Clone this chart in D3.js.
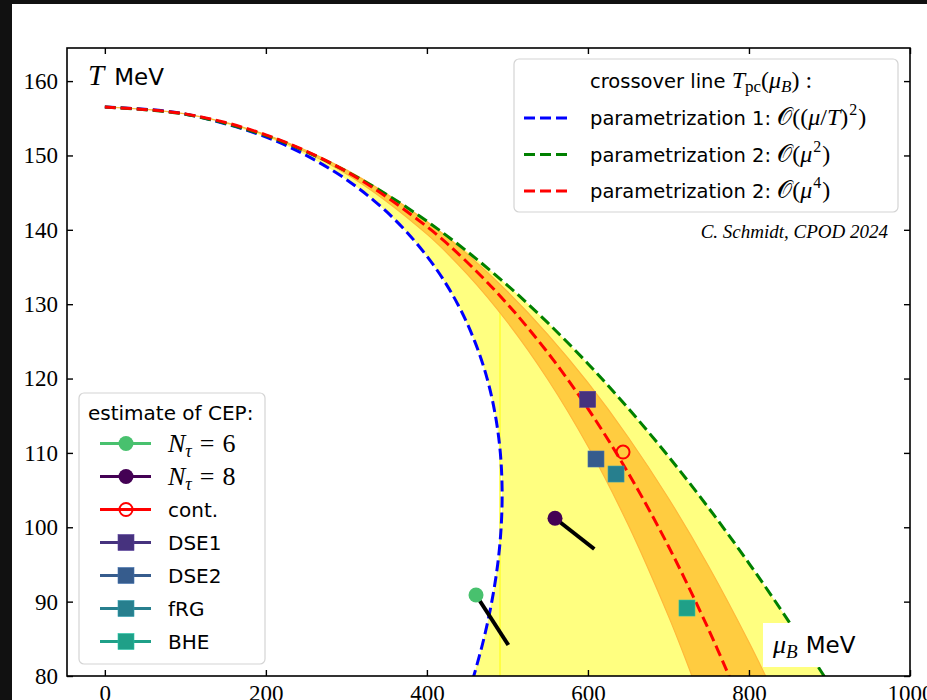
<!DOCTYPE html>
<html>
<head>
<meta charset="utf-8">
<script src="https://cdn.jsdelivr.net/npm/d3@7"></script>
<style>
  body { margin: 0; background: #fff; }
  svg { display: block; }
</style>
</head>
<body>
<div id="wrapper"></div>
<script>
// crossover line, parametrization 1 (T as function of mu, curve bends back)
const blueT  = [156.5, 156, 155, 152, 148, 144, 140, 135, 130, 125, 120, 115, 110, 105, 100, 95, 90, 85, 80, 78];
const blueMu = [0, 72.3, 124.3, 211.2, 282.6, 333.4, 372.4, 409.9, 438.3, 459.4, 474.8, 485.1, 491.2, 493.4, 492.2, 487.9, 480.6, 470.7, 458.2, 452.5];

// parametrization 2, O(mu^2)
const greenMu = [0, 100, 200, 250, 300, 350, 400, 450, 500, 550, 600, 650, 700, 750, 800, 850, 900];
const greenT  = [156.5, 155.54, 152.67, 150.51, 147.87, 144.76, 141.16, 137.09, 132.54, 127.51, 122.0, 116.0, 109.53, 102.58, 95.16, 87.25, 78.86];

// parametrization 2, O(mu^4)
const redMu = [0, 100, 200, 300, 400, 450, 500, 550, 600, 650, 700, 750, 780];
const redT  = [156.5, 155.59, 152.77, 147.84, 140.43, 135.64, 130.02, 123.49, 115.96, 107.31, 97.45, 86.23, 78.8];

// orange band around the O(mu^4) line
const bandLoMu = [0, 100, 200, 300, 400, 450, 500, 550, 600, 650, 700, 720, 740];
const bandLoT  = [156.5, 155.58, 152.71, 147.52, 139.42, 134.03, 127.57, 119.91, 110.89, 100.33, 88.05, 82.61, 76.85];
const bandHiMu = [0, 100, 200, 300, 400, 450, 500, 550, 600, 650, 700, 750, 800, 830];
const bandHiT  = [156.5, 155.59, 152.82, 148.06, 141.11, 136.74, 131.7, 125.95, 119.44, 112.11, 103.9, 94.73, 84.54, 77.9];

// seam in the yellow area
const seamMu = 490.8;
const seamT = [80, 129];

// CEP estimates
const cepNames  = ["Nt6", "Nt8", "cont.", "DSE1", "DSE2", "fRG", "BHE"];
const cepMu     = [461.0, 559.1, 643.6, 599.7, 610.0, 634.9, 723.0];
const cepT      = [90.89, 101.21, 110.12, 117.21, 109.18, 107.16, 89.14];
const cepColors = ["#48c16e", "#440154", "#ff0000", "#46327e", "#365c8d", "#277f8e", "#1fa088"];
const cepShapes = ["circle", "circle", "open", "square", "square", "square", "square"];
// black direction lines for the lattice points
const arrowEndMu = [501.1, 607.9];
const arrowEndT  = [84.17, 97.08];

const xTicks = [0, 200, 400, 600, 800, 1000];
const yTicks = [80, 90, 100, 110, 120, 130, 140, 150, 160];

const crossoverNames = ["parametrization 1: ", "parametrization 2: ", "parametrization 2: "];
const crossoverColors = ["#0000ff", "#008000", "#ff0000"];

const W = 927, H = 700;
const svg = d3.select("#wrapper").append("svg").attr("width", W).attr("height", H);

const x = d3.scaleLinear().domain([-47, 1000]).range([67, 910]);
const y = d3.scaleLinear().domain([80, 164.45]).range([676, 48]);

const serif = "'Liberation Serif', 'DejaVu Serif', serif";
const sans = "'DejaVu Sans', sans-serif";

svg.append("defs").append("clipPath").attr("id", "clip")
  .append("rect").attr("x", 67).attr("y", 48).attr("width", 843).attr("height", 628);

const plot = svg.append("g").attr("clip-path", "url(#clip)");

const line = d3.line().x(d => x(d[0])).y(d => y(d[1])).curve(d3.curveCatmullRom);

const bluePts = blueT.map((t, i) => [blueMu[i], t]);
const greenPts = greenMu.map((m, i) => [m, greenT[i]]);
const redPts = redMu.map((m, i) => [m, redT[i]]);
const loPts = bandLoMu.map((m, i) => [m, bandLoT[i]]);
const hiPts = bandHiMu.map((m, i) => [m, bandHiT[i]]);

// yellow area between blue and green
const blueUp = bluePts.slice().reverse();
plot.append("path")
  .attr("d", line(greenPts) + "L" + line(blueUp).slice(1) + "Z")
  .attr("fill", "#ffff80").attr("stroke", "none");

plot.append("line")
  .attr("x1", x(seamMu)).attr("x2", x(seamMu))
  .attr("y1", y(seamT[0])).attr("y2", y(seamT[1]))
  .attr("stroke", "#ffff30").attr("stroke-width", 1.5);

// orange band
plot.append("path")
  .attr("d", line(hiPts) + "L" + line(loPts.slice().reverse()).slice(1) + "Z")
  .attr("fill", "#ffcc40").attr("stroke", "#ffb83a").attr("stroke-width", 1.2);

// crossover lines
[[bluePts, "#0000ff"], [greenPts, "#008000"], [redPts, "#ff0000"]].forEach(([pts, c]) => {
  plot.append("path").attr("d", line(pts))
    .attr("fill", "none").attr("stroke", c).attr("stroke-width", 3)
    .attr("stroke-dasharray", "11,5");
});

// black lines from lattice estimates
arrowEndMu.forEach((m, i) => {
  plot.append("line")
    .attr("x1", x(cepMu[i])).attr("y1", y(cepT[i]))
    .attr("x2", x(m)).attr("y2", y(arrowEndT[i]))
    .attr("stroke", "#000").attr("stroke-width", 4);
});

function marker(g, shape, color, cx, cy) {
  if (shape === "circle") {
    g.append("circle").attr("cx", cx).attr("cy", cy).attr("r", 7.5).attr("fill", color);
  } else if (shape === "open") {
    g.append("circle").attr("cx", cx).attr("cy", cy).attr("r", 6.5)
      .attr("fill", "none").attr("stroke", color).attr("stroke-width", 2);
  } else {
    g.append("rect").attr("x", cx - 8).attr("y", cy - 8).attr("width", 16).attr("height", 16)
      .attr("fill", color).attr("stroke", d3.color(color).brighter(0.6)).attr("stroke-width", 0.6);
  }
}

cepNames.forEach((n, i) => marker(plot, cepShapes[i], cepColors[i], x(cepMu[i]), y(cepT[i])));

// mu_B MeV label with white box
svg.append("rect").attr("x", 763).attr("y", 623).attr("width", 110).attr("height", 44).attr("fill", "#fff");
const muLab = svg.append("text").attr("x", 773).attr("y", 653).style("font-size", "26px");
muLab.append("tspan").attr("font-family", serif).attr("font-style", "italic").text("μ");
muLab.append("tspan").attr("font-family", serif).attr("font-style", "italic").attr("font-size", "19px").attr("dy", 5).text("B");
muLab.append("tspan").attr("font-family", sans).attr("font-size", "23px").attr("dy", -5).attr("dx", 8).text("MeV");

const tLab = svg.append("text").attr("x", 88).attr("y", 85);
tLab.append("tspan").attr("font-family", serif).attr("font-style", "italic").attr("font-size", "29px").text("T");
tLab.append("tspan").attr("font-family", sans).attr("font-size", "23px").attr("dx", 10).text("MeV");

// frame and ticks
const axisStyle = g => {
  g.select(".domain").remove();
  g.selectAll(".tick line").attr("stroke", "#000").attr("stroke-width", 1.4);
  g.selectAll(".tick text").attr("font-family", serif).attr("font-size", "23px").attr("fill", "#000");
};
svg.append("g").attr("transform", "translate(0,676)")
  .call(d3.axisBottom(x).tickValues(xTicks).tickSize(-6).tickSizeOuter(0).tickPadding(9).tickFormat(d3.format("d")))
  .call(axisStyle);
svg.append("g").attr("transform", "translate(0,48)")
  .call(d3.axisTop(x).tickValues(xTicks).tickSize(-6).tickSizeOuter(0).tickFormat(""))
  .call(axisStyle);
svg.append("g").attr("transform", "translate(67,0)")
  .call(d3.axisLeft(y).tickValues(yTicks).tickSize(-6).tickSizeOuter(0).tickPadding(9).tickFormat(d3.format("d")))
  .call(axisStyle);
svg.append("g").attr("transform", "translate(910,0)")
  .call(d3.axisRight(y).tickValues(yTicks).tickSize(-6).tickSizeOuter(0).tickFormat(""))
  .call(axisStyle);
svg.append("rect").attr("x", 67).attr("y", 48).attr("width", 843).attr("height", 628)
  .attr("fill", "none").attr("stroke", "#000").attr("stroke-width", 1.6);

// legend: crossover lines
const leg1 = svg.append("g");
leg1.append("rect").attr("x", 514).attr("y", 59).attr("width", 384).attr("height", 153).attr("rx", 5)
  .attr("fill", "#fff").attr("fill-opacity", 0.85).attr("stroke", "#d4d4d4").attr("stroke-width", 1.2);
const t1 = leg1.append("text").attr("x", 590).attr("y", 88).attr("font-size", "19.5px");
t1.append("tspan").attr("font-family", sans).text("crossover line ");
t1.append("tspan").attr("font-family", serif).attr("font-style", "italic").attr("font-size", "24px").text("T");
t1.append("tspan").attr("font-family", serif).attr("font-size", "17px").attr("dy", 4).text("pc");
t1.append("tspan").attr("font-family", serif).attr("font-size", "24px").attr("dy", -4).text("(");
t1.append("tspan").attr("font-family", serif).attr("font-style", "italic").attr("font-size", "24px").text("μ");
t1.append("tspan").attr("font-family", serif).attr("font-style", "italic").attr("font-size", "17px").attr("dy", 4).text("B");
t1.append("tspan").attr("font-family", serif).attr("font-size", "24px").attr("dy", -4).text(")");
t1.append("tspan").attr("font-family", serif).attr("font-size", "24px").attr("dx", 6).text(":");

const mathParts = [
  [["((", ""], ["μ", "i"], ["/", ""], ["T", "i"], [")", ""], ["2", "sup"], [")", ""]],
  [["(", ""], ["μ", "i"], ["2", "sup"], [")", ""]],
  [["(", ""], ["μ", "i"], ["4", "sup"], [")", ""]]
];
crossoverNames.forEach((n, i) => {
  const cy = 118 + i * 36.5;
  leg1.append("line").attr("x1", 524).attr("x2", 570).attr("y1", cy).attr("y2", cy)
    .attr("stroke", crossoverColors[i]).attr("stroke-width", 3).attr("stroke-dasharray", "11,5");
  const t = leg1.append("text").attr("x", 590).attr("y", cy + 7).attr("font-size", "19.5px");
  t.append("tspan").attr("font-family", sans).text(n);
  t.append("tspan").attr("font-family", serif).attr("font-size", "24px").text("𝒪");
  let up = false;
  mathParts[i].forEach(([s, k]) => {
    const ts = t.append("tspan").attr("font-family", serif).attr("font-size", k === "sup" ? "16px" : "24px").text(s);
    if (k === "i") ts.attr("font-style", "italic");
    if (k === "sup") { ts.attr("dy", -10).attr("dx", 1); up = true; }
    else if (up) { ts.attr("dy", 10).attr("dx", 1); up = false; }
  });
});

svg.append("text").attr("x", 888).attr("y", 238).attr("text-anchor", "end")
  .attr("font-family", serif).attr("font-style", "italic").attr("font-size", "19px")
  .text("C. Schmidt, CPOD 2024");

// legend: CEP estimates
const leg2 = svg.append("g");
leg2.append("rect").attr("x", 79).attr("y", 393).attr("width", 186).attr("height", 271).attr("rx", 5)
  .attr("fill", "#fff").attr("fill-opacity", 0.85).attr("stroke", "#d4d4d4").attr("stroke-width", 1.2);
leg2.append("text").attr("x", 88).attr("y", 420).attr("font-family", sans).attr("font-size", "20px")
  .text("estimate of CEP:");
cepNames.forEach((n, i) => {
  const cy = 443.5 + i * 33;
  leg2.append("line").attr("x1", 100).attr("x2", 151).attr("y1", cy).attr("y2", cy)
    .attr("stroke", cepColors[i]).attr("stroke-width", 3);
  marker(leg2, cepShapes[i], cepColors[i], 126, cy);
  if (n.startsWith("Nt")) {
    const t = leg2.append("text").attr("x", 168).attr("y", cy + 8).attr("font-family", serif).attr("font-size", "26px");
    t.append("tspan").attr("font-style", "italic").text("N");
    t.append("tspan").attr("font-style", "italic").attr("font-size", "18px").attr("dy", 5).text("τ");
    t.append("tspan").attr("dy", -5).attr("dx", 8).text("=");
    t.append("tspan").attr("dx", 8).text(n.slice(2));
  } else {
    leg2.append("text").attr("x", 168).attr("y", cy + 7).attr("font-family", sans).attr("font-size", "20px").text(n);
  }
});

// dark screenshot border
svg.append("rect").attr("x", 0).attr("y", 0).attr("width", 12).attr("height", H).attr("fill", "#111");
svg.append("rect").attr("x", 0).attr("y", 0).attr("width", W).attr("height", 4).attr("fill", "#111");
</script>
</body>
</html>
